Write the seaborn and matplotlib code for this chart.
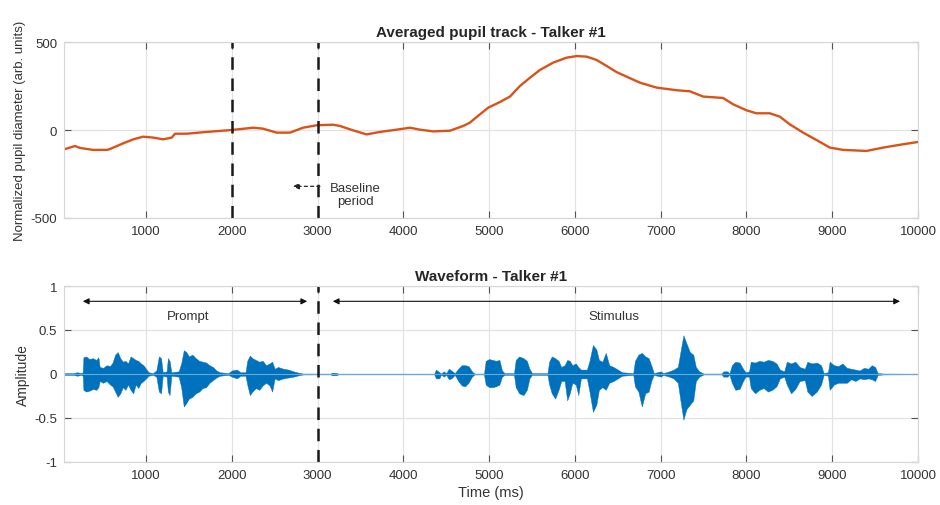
import matplotlib
matplotlib.use("Agg")
import matplotlib.pyplot as plt
import seaborn as sns
import pandas as pd

# pupil track (ms, arb. units)
pupil_t = [44, 172, 231, 382, 545, 580, 732, 852, 965, 1082, 1200, 1300, 1338, 1474,
           1707, 1998, 2247, 2360, 2523, 2678, 2830, 2990, 3180, 3261, 3414, 3572,
           3727, 3922, 4077, 4193, 4349, 4543, 4698, 4776, 4893, 4990, 5126, 5243,
           5359, 5476, 5592, 5747, 5903, 6020, 6137, 6253, 6370, 6486, 6603, 6758,
           6952, 7185, 7340, 7495, 7728, 7845, 8000, 8116, 8272, 8389, 8506, 8661,
           8817, 8972, 9127, 9399, 9593, 9826, 10000]
pupil_v = [-110, -91, -102, -113, -113, -108, -76, -53, -38, -43, -53, -43, -21, -21,
           -11, 0, 13, 8, -15, -15, 13, 27, 30, 23, -2, -25,
           -11, 2, 13, 2, -8, -4, 23, 42, 89, 127, 159, 190,
           250, 297, 341, 383, 411, 420, 417, 398, 364, 329, 303, 269,
           241, 226, 220, 190, 182, 146, 112, 95, 95, 76, 32, -15,
           -57, -100, -113, -119, -100, -81, -68]

# waveform envelope (ms, upper, lower amplitude)
wave_t = [44, 150, 200, 240, 262, 270, 300, 340, 380, 420, 445, 460, 500, 540, 580,
          610, 640, 670, 700, 730, 760, 790, 820, 850, 880, 910, 940, 970, 1000,
          1030, 1080, 1120, 1150, 1175, 1195, 1240, 1255, 1275, 1295, 1380, 1410,
          1440, 1470, 1500, 1540, 1580, 1620, 1660, 1700, 1740, 1780, 1820, 1860,
          1960, 2000, 2060, 2100, 2160, 2180, 2210, 2240, 2280, 2320, 2360, 2400,
          2440, 2470, 2500, 2540, 2600, 2660, 2720, 2780, 2830, 3150, 3170, 3220,
          3240, 4360, 4380, 4420, 4440, 4470, 4500, 4530, 4560, 4600, 4640, 4680,
          4720, 4760, 4800, 4830, 4940, 4960, 5000, 5040, 5080, 5120, 5150, 5180,
          5290, 5310, 5350, 5400, 5440, 5470, 5500, 5680, 5700, 5730, 5770, 5810,
          5840, 5880, 5910, 5940, 5970, 6010, 6040, 6070, 6140, 6170, 6210, 6250,
          6280, 6320, 6360, 6400, 6450, 6500, 6550, 6680, 6700, 6740, 6780, 6820,
          6860, 6890, 6920, 7000, 7030, 7100, 7150, 7200, 7230, 7265, 7300, 7340,
          7380, 7410, 7450, 7500, 7710, 7730, 7780, 7800, 7830, 7870, 7920, 7960,
          7990, 8030, 8050, 8100, 8150, 8200, 8250, 8300, 8350, 8390, 8440, 8470,
          8520, 8570, 8620, 8680, 8710, 8760, 8820, 8870, 8900, 8950, 8970, 9020,
          9070, 9120, 9170, 9220, 9270, 9320, 9370, 9420, 9460, 9500, 9530, 9600,
          10000]
wave_hi = [0.01, 0.01, 0.02, 0.01, 0.02, 0.19, 0.20, 0.17, 0.18, 0.16, 0.19, 0.08, 0.07, 0.10, 0.09,
           0.13, 0.22, 0.25, 0.18, 0.14, 0.15, 0.12, 0.20, 0.18, 0.16, 0.15, 0.12, 0.10, 0.06,
           0.02, 0.01, 0.04, 0.20, 0.18, 0.02, 0.03, 0.18, 0.15, 0.02, 0.03, 0.12,
           0.27, 0.25, 0.20, 0.22, 0.18, 0.15, 0.14, 0.13, 0.10, 0.08, 0.04, 0.02,
           0.01, 0.04, 0.05, 0.02, 0.02, 0.15, 0.21, 0.18, 0.16, 0.14, 0.15, 0.10,
           0.12, 0.14, 0.06, 0.08, 0.06, 0.05, 0.03, 0.015, 0.005, 0.004, 0.015, 0.012,
           0.004, 0.004, 0.05, 0.02, 0.005, 0.03, 0.01, 0.06, 0.04, 0.01, 0.06, 0.10,
           0.10, 0.09, 0.03, 0.005, 0.005, 0.15, 0.17, 0.16, 0.15, 0.16, 0.04, 0.01,
           0.01, 0.16, 0.20, 0.18, 0.15, 0.06, 0.01, 0.01, 0.14, 0.20, 0.18, 0.15,
           0.08, 0.10, 0.16, 0.15, 0.10, 0.12, 0.08, 0.05, 0.05, 0.15, 0.33, 0.28,
           0.16, 0.14, 0.24, 0.10, 0.08, 0.05, 0.02, 0.01, 0.15, 0.22, 0.24, 0.20,
           0.18, 0.10, 0.01, 0.03, 0.01, 0.03, 0.05, 0.08, 0.25, 0.44, 0.35, 0.25,
           0.22, 0.08, 0.03, 0.005, 0.005, 0.03, 0.03, 0.005, 0.10, 0.14, 0.13, 0.06,
           0.02, 0.03, 0.14, 0.13, 0.15, 0.14, 0.16, 0.15, 0.12, 0.05, 0.03, 0.14,
           0.12, 0.14, 0.08, 0.06, 0.14, 0.12, 0.13, 0.10, 0.01, 0.02, 0.14, 0.10,
           0.09, 0.12, 0.07, 0.06, 0.05, 0.04, 0.07, 0.06, 0.10, 0.08, 0.01, 0.005,
           0.003]
wave_lo = [-0.01, -0.01, -0.02, -0.01, -0.02, -0.18, -0.20, -0.19, -0.17, -0.18, -0.15, -0.08, -0.10, -0.08, -0.12,
           -0.14, -0.20, -0.26, -0.22, -0.15, -0.18, -0.12, -0.18, -0.22, -0.12, -0.16, -0.10, -0.08, -0.05,
           -0.02, -0.01, -0.03, -0.20, -0.22, -0.02, -0.03, -0.20, -0.24, -0.02, -0.03, -0.15,
           -0.37, -0.33, -0.28, -0.26, -0.22, -0.20, -0.16, -0.15, -0.10, -0.07, -0.04, -0.02,
           -0.01, -0.03, -0.05, -0.02, -0.02, -0.12, -0.24, -0.20, -0.16, -0.18, -0.13, -0.10,
           -0.13, -0.20, -0.05, -0.07, -0.05, -0.04, -0.03, -0.015, -0.005, -0.004, -0.015, -0.015,
           -0.004, -0.004, -0.05, -0.05, -0.005, -0.03, -0.01, -0.06, -0.05, -0.01, -0.08, -0.13,
           -0.14, -0.10, -0.03, -0.005, -0.005, -0.12, -0.15, -0.15, -0.14, -0.12, -0.03, -0.01,
           -0.01, -0.15, -0.22, -0.24, -0.18, -0.05, -0.01, -0.01, -0.12, -0.22, -0.28, -0.18,
           -0.08, -0.08, -0.30, -0.22, -0.10, -0.12, -0.24, -0.05, -0.05, -0.20, -0.43, -0.35,
           -0.18, -0.15, -0.18, -0.10, -0.08, -0.05, -0.02, -0.01, -0.14, -0.20, -0.37, -0.22,
           -0.20, -0.08, -0.01, -0.03, -0.01, -0.03, -0.05, -0.10, -0.30, -0.52, -0.40, -0.35,
           -0.30, -0.08, -0.03, -0.005, -0.005, -0.03, -0.03, -0.005, -0.10, -0.18, -0.17, -0.08,
           -0.03, -0.03, -0.16, -0.22, -0.18, -0.16, -0.20, -0.18, -0.14, -0.05, -0.03, -0.12,
           -0.22, -0.17, -0.08, -0.07, -0.20, -0.25, -0.20, -0.12, -0.01, -0.02, -0.18, -0.12,
           -0.10, -0.10, -0.10, -0.06, -0.08, -0.05, -0.06, -0.05, -0.06, -0.08, -0.01, -0.005,
           -0.003]

baseline_marks = [2000, 3000]
stim_onset = 3000
x_ticks = [1000, 2000, 3000, 4000, 5000, 6000, 7000, 8000, 9000, 10000]

pupil_df = pd.DataFrame({"Time (ms)": pupil_t, "Pupil": pupil_v})
wave_df = pd.DataFrame({"Time (ms)": wave_t, "hi": wave_hi, "lo": wave_lo})

sns.set_theme(style="whitegrid")
plt.rcParams["font.family"] = ["Liberation Sans", "DejaVu Sans"]
plt.rcParams["axes.unicode_minus"] = False

fig = plt.figure(figsize=(9.4, 5.06), dpi=100)
ax1 = fig.add_axes([0.0681, 0.5672, 0.9085, 0.3478])
ax2 = fig.add_axes([0.0681, 0.0850, 0.9085, 0.3478])

orange = "#D95319"
blue = "#0072BD"
txt = "#333333"

sns.lineplot(data=pupil_df, x="Time (ms)", y="Pupil", color=orange, linewidth=1.7, ax=ax1)
for xv in baseline_marks:
    ax1.axvline(xv, color="#1a1a1a", lw=1.8, dashes=(5, 3.5))
ax1.annotate("", xy=(2680, -320), xytext=(3060, -320),
             arrowprops=dict(arrowstyle="-|>", color="#222222", lw=0.9,
                             linestyle=(0, (2.5, 2.5)), mutation_scale=9))
ax1.text(3440, -365, "Baseline\nperiod", ha="center", va="center", fontsize=9.5,
         color=txt, linespacing=1.1)
ax1.set_xlim(44, 10000)
ax1.set_ylim(-500, 500)
ax1.set_yticks([-500, 0, 500])
ax1.set_title("Averaged pupil track - Talker #1", fontsize=11, fontweight="bold", pad=4)
ax1.set_ylabel("Normalized pupil diameter (arb. units)", fontsize=9.5, color=txt, labelpad=3)
ax1.set_xlabel("")

sns.lineplot(data=wave_df, x="Time (ms)", y=[0] * len(wave_t), color="#6aa8d8", linewidth=0.8, ax=ax2)
ax2.fill_between(wave_df["Time (ms)"], wave_df["lo"], wave_df["hi"], color=blue, lw=0.3,
                 edgecolor=blue)
ax2.axvline(stim_onset, color="#1a1a1a", lw=1.8, dashes=(5, 3.5))
ax2.annotate("", xy=(231, 0.826), xytext=(2911, 0.826),
             arrowprops=dict(arrowstyle="<|-|>", color="#111111", lw=0.8, mutation_scale=9))
ax2.annotate("", xy=(3145, 0.826), xytext=(9823, 0.826),
             arrowprops=dict(arrowstyle="<|-|>", color="#111111", lw=0.8, mutation_scale=9))
ax2.text(1490, 0.656, "Prompt", ha="center", va="center", fontsize=9.5, color=txt)
ax2.text(6455, 0.656, "Stimulus", ha="center", va="center", fontsize=9.5, color=txt)
ax2.set_xlim(44, 10000)
ax2.set_ylim(-1, 1)
ax2.set_yticks([-1, -0.5, 0, 0.5, 1])
ax2.set_yticklabels(["-1", "-0.5", "0", "0.5", "1"])
ax2.set_title("Waveform - Talker #1", fontsize=11, fontweight="bold", pad=4)
ax2.set_ylabel("Amplitude", fontsize=10, color=txt, labelpad=3)
ax2.set_xlabel("Time (ms)", fontsize=10.5, color=txt, labelpad=3)

for ax in (ax1, ax2):
    ax.set_xticks(x_ticks)
    ax.grid(True, color="#e3e3e3", lw=0.9)
    ax.tick_params(axis="both", labelsize=9.5, labelcolor=txt, direction="in",
                   length=5, width=0.8, color="#555555", top=True, right=True,
                   bottom=True, left=True, pad=5)
    for s in ax.spines.values():
        s.set_color("#d6d6d6")
        s.set_linewidth(0.8)
    if ax.get_legend():
        ax.get_legend().remove()

fig.savefig("out.png", dpi=100)
